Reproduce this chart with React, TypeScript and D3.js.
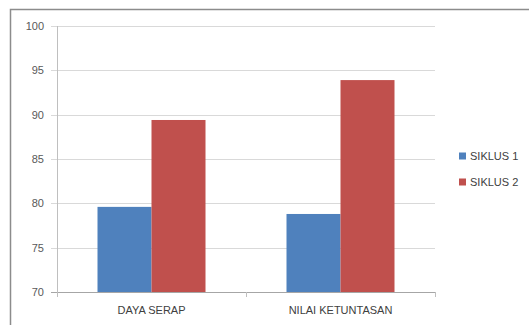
import React from "react";
import * as d3 from "d3";

const categories = ["DAYA SERAP", "NILAI KETUNTASAN"];
const seriesNames = ["SIKLUS 1", "SIKLUS 2"];
const siklus1 = [79.6, 78.8];
const siklus2 = [89.4, 93.9];
const yTicks = [70, 75, 80, 85, 90, 95, 100];
const colors = ["#4f81bd", "#c0504d"];

export default function App() {
  const W = 529, H = 325;
  const left = 57, right = 435, top = 26, bottom = 292;
  const x0 = d3.scaleBand<string>().domain(categories).range([left, right]).paddingInner(0).paddingOuter(0);
  const y = d3.scaleLinear().domain([70, 100]).range([bottom, top]);
  const bw = x0.bandwidth();
  const barW = bw / 3.5;
  const x1 = d3.scaleBand<string>().domain(seriesNames).range([0, barW * 2]);
  const series = [siklus1, siklus2];
  const font = "'Liberation Sans', Arial, sans-serif";
  return (
    <svg width={W} height={H} style={{ position: "absolute", left: 0, top: 0 }} fontFamily={font}>
      <rect x={0} y={0} width={W} height={H} fill="#fff" />
      <rect x={10.5} y={9.5} width={W} height={H} fill="none" stroke="#8c8c8c" strokeWidth={1.5} />
      {yTicks.map((t) => (
        <g key={t}>
          <line x1={left - 6} x2={right} y1={Math.round(y(t)) + 0.5} y2={Math.round(y(t)) + 0.5} stroke={t === 70 ? "#a6a6a6" : "#d9d9d9"} strokeWidth={1} />
          <text x={44} y={y(t)} dy="0.35em" textAnchor="end" fontSize={11} fill="#595959">{t}</text>
        </g>
      ))}
      <line x1={left + 0.5} x2={left + 0.5} y1={top} y2={bottom + 5} stroke="#bfbfbf" />
      {[left, left + bw, right].map((xx, i) => (
        <line key={i} x1={Math.round(xx) + 0.5} x2={Math.round(xx) + 0.5} y1={bottom} y2={bottom + 5} stroke="#bfbfbf" />
      ))}
      {categories.map((c, ci) => (
        <g key={c} transform={`translate(${(x0(c) as number) + (bw - barW * 2) / 2},0)`}>
          {seriesNames.map((s, si) => (
            <rect key={s} x={x1(s)} y={y(series[si][ci])} width={x1.bandwidth()} height={bottom - y(series[si][ci])} fill={colors[si]} />
          ))}
          <text x={barW} y={314} textAnchor="middle" fontSize={11} fill="#404040">{c}</text>
        </g>
      ))}
      {seriesNames.map((s, i) => (
        <g key={s} transform={`translate(459,${156 + i * 26})`}>
          <rect x={0} y={-3.5} width={7} height={7} fill={colors[i]} />
          <text x={11} y={0} dy="0.35em" fontSize={11} fill="#404040">{s}</text>
        </g>
      ))}
    </svg>
  );
}
